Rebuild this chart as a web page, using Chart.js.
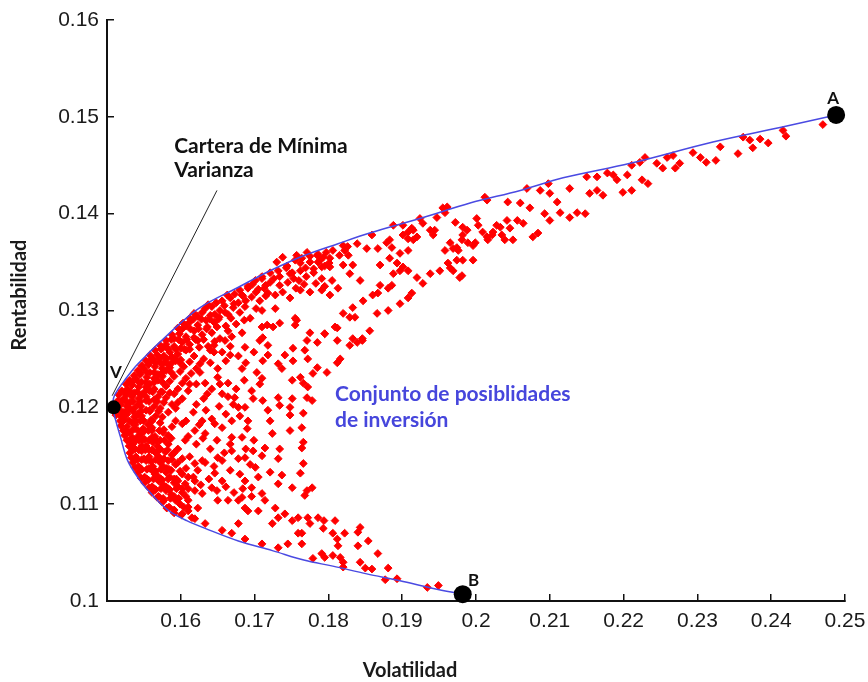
<!DOCTYPE html>
<html lang="es">
<head>
<meta charset="utf-8">
<title>Conjunto de posibilidades de inversión</title>
<script src="https://cdn.jsdelivr.net/npm/chart.js@4.4.1/dist/chart.umd.min.js"></script>
<style>
  html, body { margin: 0; padding: 0; background: #fff; }
  #grafico { display: block; }
</style>
</head>
<body>
<canvas id="grafico" width="868" height="682"></canvas>
<script>
// Carteras simuladas: [volatilidad, rentabilidad]
// Tramo superior derecho, pegado a la frontera
const franjaSuperior = [
    [0.2150,0.1438],[0.2164,0.1438],[0.2178,0.1442],[0.2186,0.1440],[0.2191,0.1435],[0.2205,0.1440],
    [0.2211,0.1450],[0.2222,0.1453],[0.2229,0.1458],[0.2245,0.1452],[0.2253,0.1447],[0.2259,0.1458],
    [0.2267,0.1460],[0.2276,0.1452],[0.2270,0.1447],[0.2294,0.1463],[0.2304,0.1458],[0.2312,0.1453],
    [0.2325,0.1455],[0.2331,0.1469],[0.2355,0.1462],[0.2362,0.1479],[0.2371,0.1476],[0.2375,0.1468],
    [0.2385,0.1477],[0.2396,0.1473],[0.2416,0.1486],[0.2420,0.1480],[0.2470,0.1492],[0.2154,0.1421],
    [0.2164,0.1424],[0.2172,0.1419],[0.2199,0.1422],[0.2211,0.1424],[0.2225,0.1435],[0.2233,0.1431],
    [0.2148,0.1400]
];
// Tramo central de la rama superior
const franjaMedia = [
    [0.1793,0.1355],[0.1802,0.1354],[0.1791,0.1345],[0.1802,0.1345],[0.1820,0.1367],[0.1822,0.1362],
    [0.1827,0.1357],[0.1839,0.1369],[0.1820,0.1347],[0.1833,0.1347],[0.1829,0.1338],[0.1805,0.1331],
    [0.1843,0.1331],[0.1852,0.1364],[0.1859,0.1378],[0.1867,0.1364],[0.1870,0.1347],[0.1883,0.1373],
    [0.1888,0.1388],[0.1886,0.1365],[0.1897,0.1359],[0.1908,0.1362],[0.1893,0.1349],[0.1897,0.1341],
    [0.1901,0.1345],[0.1908,0.1341],[0.1888,0.1338],[0.1886,0.1326],[0.1920,0.1334],[0.1928,0.1328],
    [0.1938,0.1338],[0.1913,0.1318],[0.1908,0.1313],[0.1897,0.1307],[0.1881,0.1323],[0.1870,0.1326],
    [0.1867,0.1318],[0.1860,0.1316],[0.1847,0.1310],[0.1833,0.1303],[0.1820,0.1297],[0.1829,0.1293],
    [0.1836,0.1293],[0.1866,0.1297],[0.1881,0.1300],[0.1856,0.1279],[0.1809,0.1283],[0.1795,0.1276],
    [0.1833,0.1271],[0.1846,0.1271],[0.1901,0.1378],[0.1908,0.1381],[0.1913,0.1385],[0.1924,0.1395],
    [0.1928,0.1390],[0.1908,0.1374],[0.1920,0.1376],[0.1915,0.1373],[0.1942,0.1378],[0.1944,0.1383],
    [0.1947,0.1396],[0.1955,0.1406],[0.1958,0.1401],[0.1961,0.1407],[0.1972,0.1391],[0.1965,0.1370],
    [0.1958,0.1362],[0.1974,0.1365],[0.1982,0.1386],[0.1982,0.1378],[0.1988,0.1383],[0.1981,0.1373],
    [0.1976,0.1362],[0.2001,0.1395],[0.2003,0.1388],[0.1969,0.1364],[0.1962,0.1349],[0.1969,0.1341],
    [0.1978,0.1334],[0.1974,0.1352],[0.1982,0.1352],[0.1996,0.1352],[0.1951,0.1341],[0.1965,0.1344],
    [0.1981,0.1336],[0.1989,0.1370],[0.1996,0.1367],[0.1999,0.1370],[0.2009,0.1381],[0.2015,0.1376],
    [0.2022,0.1378],[0.2016,0.1373],[0.2023,0.1381],[0.2012,0.1417],[0.2015,0.1414],[0.2028,0.1388],
    [0.2033,0.1386],[0.2035,0.1378],[0.2039,0.1373],[0.2042,0.1393],[0.2043,0.1412],[0.2046,0.1385],
    [0.2050,0.1373],[0.2056,0.1393],[0.2060,0.1411],[0.2064,0.1390],[0.2073,0.1406],[0.2077,0.1376],
    [0.2084,0.1380],[0.2069,0.1426],[0.2087,0.1424],[0.2098,0.1431],[0.2100,0.1421],[0.2093,0.1400],
    [0.2100,0.1393],[0.2110,0.1412],[0.2114,0.1401],[0.2127,0.1426],[0.2127,0.1396],[0.2137,0.1401],
    [0.1879,0.1370],[0.1901,0.1388],[0.1915,0.1383],[0.1938,0.1383],[0.1883,0.1354],[0.1738,0.1355],
    [0.1757,0.1357],[0.1771,0.1360],[0.1785,0.1357],[0.1730,0.1350],
    [0.1710,0.1335],[0.1744,0.1346],[0.1762,0.1349],[0.1775,0.1356],[0.1734,0.1335],[0.1753,0.1333],
    [0.1783,0.1328],[0.1795,0.1325],[0.1813,0.1323],[0.1762,0.1321],[0.1738,0.1319],[0.1713,0.1323]
];
// Nube compacta junto a la cartera de mínima varianza
const franjaDensa = [
    [0.1786,0.1358],[0.1797,0.1360],[0.1806,0.1362],
    [0.1755,0.1352],[0.1764,0.1354],[0.1775,0.1350],[0.1786,0.1350],[0.1795,0.1346],
    [0.1721,0.1339],[0.1732,0.1341],[0.1743,0.1344],[0.1751,0.1339],[0.1762,0.1341],[0.1770,0.1335],[0.1780,0.1339],[0.1791,0.1333],
    [0.1701,0.1331],[0.1710,0.1333],[0.1721,0.1329],[0.1734,0.1326],[0.1745,0.1329],[0.1756,0.1323],[0.1767,0.1327],[0.1775,0.1319],[0.1791,0.1321],[0.1802,0.1316],
    [0.1680,0.1321],[0.1691,0.1323],[0.1702,0.1319],[0.1728,0.1316],[0.1748,0.1313],
    [0.1656,0.1310],[0.1667,0.1313],[0.1678,0.1308],[0.1688,0.1310],[0.1707,0.1310],
    [0.1633,0.1302],[0.1642,0.1304],[0.1653,0.1300],[0.1664,0.1296],[0.1680,0.1298],[0.1694,0.1292],
    [0.1612,0.1292],[0.1623,0.1294],[0.1634,0.1290],[0.1645,0.1288],[0.1661,0.1284],[0.1675,0.1286],
    [0.1596,0.1282],[0.1607,0.1284],[0.1618,0.1279],[0.1629,0.1275],[0.1642,0.1277],[0.1653,0.1271],[0.1669,0.1273],
    [0.1580,0.1269],[0.1591,0.1271],[0.1602,0.1267],[0.1612,0.1265],[0.1623,0.1269],[0.1637,0.1263],
    [0.1565,0.1259],[0.1575,0.1261],[0.1585,0.1257],[0.1596,0.1255],[0.1607,0.1259],[0.1618,0.1253],[0.1631,0.1250],[0.1645,0.1257],
    [0.1553,0.1248],[0.1561,0.1250],[0.1572,0.1246],[0.1583,0.1244],[0.1593,0.1248],[0.1604,0.1242],[0.1621,0.1240],
    [0.1542,0.1238],[0.1550,0.1240],[0.1558,0.1236],[0.1569,0.1234],[0.1580,0.1238],[0.1591,0.1232],[0.1607,0.1230],
    [0.1531,0.1228],[0.1539,0.1230],[0.1547,0.1226],[0.1558,0.1224],[0.1569,0.1228],[0.1580,0.1222],[0.1596,0.1219],[0.1612,0.1224],
    [0.1520,0.1217],[0.1528,0.1219],[0.1537,0.1215],[0.1547,0.1213],[0.1558,0.1217],[0.1569,0.1211],[0.1585,0.1215],[0.1602,0.1209],
    [0.1515,0.1207],[0.1523,0.1209],[0.1531,0.1205],[0.1542,0.1203],[0.1553,0.1207],[0.1564,0.1201],[0.1577,0.1205],[0.1593,0.1199],[0.1621,0.1203],
    [0.1515,0.1197],[0.1523,0.1195],[0.1531,0.1199],[0.1542,0.1193],[0.1553,0.1197],[0.1566,0.1191],[0.1583,0.1195],
    [0.1518,0.1186],[0.1523,0.1188],[0.1534,0.1184],[0.1545,0.1186],[0.1556,0.1182],[0.1572,0.1184],[0.1588,0.1180],
    [0.1522,0.1176],[0.1530,0.1174],[0.1538,0.1178],[0.1546,0.1172],[0.1556,0.1176],[0.1565,0.1170],[0.1576,0.1174],[0.1587,0.1168],
    [0.1527,0.1166],[0.1535,0.1162],[0.1543,0.1166],[0.1553,0.1160],[0.1562,0.1164],[0.1572,0.1157],[0.1583,0.1162],[0.1596,0.1157],
    [0.1531,0.1153],[0.1539,0.1149],[0.1547,0.1155],[0.1557,0.1149],[0.1566,0.1153],[0.1577,0.1147],[0.1588,0.1151],[0.1602,0.1147],
    [0.1535,0.1143],[0.1543,0.1139],[0.1553,0.1145],[0.1562,0.1139],[0.1572,0.1143],[0.1581,0.1137],[0.1593,0.1141],[0.1607,0.1137],
    [0.1542,0.1133],[0.1551,0.1128],[0.1561,0.1135],[0.1570,0.1128],[0.1580,0.1133],[0.1591,0.1126],[0.1602,0.1131],
    [0.1551,0.1122],[0.1561,0.1118],[0.1570,0.1124],[0.1580,0.1118],[0.1591,0.1122],[0.1602,0.1116],
    [0.1561,0.1112],[0.1570,0.1108],[0.1580,0.1114],[0.1591,0.1108],[0.1602,0.1112],
    [0.1575,0.1102],[0.1584,0.1097],[0.1593,0.1104],[0.1604,0.1097],
    [0.1591,0.1091],[0.1601,0.1089],[0.1610,0.1093]
];
// Segunda capa de la nube compacta, entre las anteriores
const franjaDensa2 = [
    [0.1691,0.1325],
    [0.1663,0.1316],[0.1673,0.1317],[0.1684,0.1315],[0.1696,0.1314],[0.1715,0.1315],
    [0.1637,0.1306],[0.1648,0.1308],[0.1659,0.1305],[0.1671,0.1303],[0.1687,0.1304],[0.1702,0.1302],
    [0.1618,0.1297],[0.1629,0.1298],[0.1640,0.1295],[0.1652,0.1293],[0.1668,0.1292],[0.1686,0.1290],
    [0.1603,0.1287],[0.1612,0.1288],[0.1623,0.1285],[0.1636,0.1283],[0.1649,0.1283],[0.1664,0.1279],[0.1683,0.1277],
    [0.1588,0.1275],[0.1598,0.1276],[0.1607,0.1273],[0.1618,0.1272],[0.1631,0.1270],[0.1646,0.1268],
    [0.1572,0.1264],[0.1580,0.1265],[0.1591,0.1263],[0.1600,0.1261],[0.1612,0.1260],[0.1625,0.1262],[0.1640,0.1259],
    [0.1558,0.1254],[0.1568,0.1254],[0.1577,0.1253],[0.1588,0.1252],[0.1600,0.1249],[0.1612,0.1247],[0.1626,0.1245],
    [0.1547,0.1243],[0.1556,0.1244],[0.1565,0.1242],[0.1575,0.1240],[0.1585,0.1241],[0.1599,0.1237],[0.1614,0.1235],
    [0.1537,0.1233],[0.1545,0.1234],[0.1554,0.1231],[0.1564,0.1230],[0.1575,0.1232],[0.1585,0.1227],[0.1602,0.1225],
    [0.1526,0.1224],[0.1534,0.1223],[0.1543,0.1221],[0.1553,0.1221],[0.1564,0.1219],[0.1575,0.1216],[0.1591,0.1214],
    [0.1516,0.1213],[0.1526,0.1213],[0.1534,0.1211],[0.1543,0.1209],[0.1553,0.1211],[0.1564,0.1208],[0.1580,0.1210],[0.1596,0.1205],
    [0.1512,0.1202],[0.1519,0.1203],[0.1527,0.1201],[0.1537,0.1199],[0.1546,0.1201],[0.1558,0.1197],[0.1572,0.1199],[0.1588,0.1203],
    [0.1512,0.1192],[0.1519,0.1191],[0.1527,0.1193],[0.1537,0.1190],[0.1547,0.1191],[0.1560,0.1187],[0.1575,0.1190],[0.1593,0.1186],
    [0.1519,0.1181],[0.1527,0.1180],[0.1538,0.1182],[0.1549,0.1178],[0.1561,0.1179],[0.1577,0.1177],
    [0.1524,0.1171],[0.1534,0.1169],[0.1542,0.1170],[0.1551,0.1167],[0.1561,0.1169],[0.1572,0.1166],[0.1583,0.1171],
    [0.1530,0.1160],[0.1538,0.1157],[0.1547,0.1160],[0.1557,0.1156],[0.1568,0.1160],[0.1579,0.1154],[0.1591,0.1153],
    [0.1533,0.1148],[0.1541,0.1146],[0.1550,0.1147],[0.1560,0.1144],[0.1570,0.1149],[0.1583,0.1145],[0.1596,0.1143],
    [0.1538,0.1138],[0.1547,0.1136],[0.1557,0.1137],[0.1566,0.1134],[0.1576,0.1139],[0.1587,0.1135],[0.1599,0.1134],
    [0.1546,0.1127],[0.1556,0.1125],[0.1565,0.1131],[0.1575,0.1125],[0.1585,0.1128],[0.1596,0.1124],[0.1610,0.1128],
    [0.1557,0.1117],[0.1566,0.1115],[0.1576,0.1120],[0.1585,0.1115],[0.1596,0.1118],[0.1610,0.1116],
    [0.1568,0.1107],[0.1577,0.1104],[0.1587,0.1110],[0.1596,0.1105],[0.1607,0.1108],
    [0.1581,0.1096],[0.1591,0.1094],[0.1599,0.1100],[0.1610,0.1097]
];
// Tercera capa: rellena los huecos de la zona más densa
const franjaDensa3 = [
    [0.1557,0.1246],[0.1566,0.1246],[0.1577,0.1246],[0.1588,0.1246],[0.1599,0.1246],
    [0.1545,0.1236],[0.1554,0.1236],[0.1564,0.1236],[0.1575,0.1236],[0.1587,0.1236],
    [0.1534,0.1226],[0.1543,0.1226],[0.1553,0.1226],[0.1564,0.1226],[0.1575,0.1226],
    [0.1524,0.1216],[0.1532,0.1216],[0.1541,0.1216],[0.1551,0.1216],[0.1562,0.1216],[0.1573,0.1216],
    [0.1519,0.1206],[0.1526,0.1206],[0.1535,0.1206],[0.1545,0.1206],[0.1557,0.1206],[0.1568,0.1206],
    [0.1519,0.1196],[0.1527,0.1196],[0.1535,0.1196],[0.1546,0.1196],[0.1558,0.1196],[0.1570,0.1196],
    [0.1522,0.1186],[0.1530,0.1186],[0.1540,0.1186],[0.1550,0.1186],[0.1561,0.1186],
    [0.1526,0.1176],[0.1534,0.1176],[0.1542,0.1176],[0.1551,0.1176],[0.1561,0.1176],[0.1571,0.1176],
    [0.1531,0.1166],[0.1539,0.1166],[0.1548,0.1166],[0.1557,0.1166],[0.1567,0.1166],[0.1578,0.1166],
    [0.1535,0.1156],[0.1543,0.1156],[0.1552,0.1156],[0.1561,0.1156],[0.1571,0.1156],[0.1582,0.1156],
    [0.1539,0.1146],[0.1547,0.1146],[0.1556,0.1146],[0.1566,0.1146],[0.1576,0.1146],[0.1588,0.1146],
    [0.1546,0.1136],[0.1554,0.1136],[0.1563,0.1136],[0.1573,0.1136],[0.1584,0.1136],
    [0.1554,0.1126],[0.1563,0.1126],[0.1573,0.1126],[0.1583,0.1126],[0.1594,0.1126],
    [0.1564,0.1116],[0.1573,0.1116],[0.1583,0.1116],[0.1594,0.1116],
    [0.1576,0.1106],[0.1586,0.1106],[0.1597,0.1106],
    [0.1617,0.1291],[0.1628,0.1291],[0.1639,0.1291],[0.1651,0.1291],
    [0.1602,0.1281],[0.1613,0.1281],[0.1624,0.1281],[0.1635,0.1281],
    [0.1587,0.1270],[0.1597,0.1270],[0.1608,0.1270],[0.1620,0.1270],
    [0.1573,0.1260],[0.1583,0.1260],[0.1593,0.1260],[0.1605,0.1260],
    [0.1562,0.1250],[0.1571,0.1250],[0.1581,0.1250],[0.1592,0.1250],
    [0.1726,0.1333],[0.1748,0.1338],[0.1769,0.1344],[0.1789,0.1352],[0.1715,0.1326],[0.1697,0.1327],
    [0.1672,0.1307],[0.1660,0.1298],[0.1646,0.1296],[0.1683,0.1316],[0.1705,0.1322],[0.1760,0.1331],
    [0.1780,0.1343],[0.1801,0.1349],[0.1815,0.1357],[0.1826,0.1366]
];
// Carteras dispersas en el interior del conjunto
const interior = [
    [0.1687,0.1262],[0.1660,0.1269],[0.1664,0.1225],[0.1650,0.1231],[0.1633,0.1225],[0.1636,0.1214],
    [0.1656,0.1214],[0.1687,0.1200],[0.1683,0.1240],[0.1673,0.1210],[0.1678,0.1200],[0.1667,0.1254],
    [0.1710,0.1300],[0.1728,0.1302],[0.1718,0.1318],[0.1755,0.1292],
    [0.1602,0.1183],[0.1606,0.1166],[0.1619,0.1176],[0.1629,0.1186],[0.1633,0.1173],[0.1646,0.1183],
    [0.1656,0.1179],[0.1669,0.1186],[0.1669,0.1169],[0.1683,0.1169],[0.1691,0.1186],[0.1669,0.1155],
    [0.1687,0.1148],[0.1650,0.1148],[0.1629,0.1145],[0.1619,0.1142],[0.1646,0.1132],[0.1656,0.1124],
    [0.1687,0.1124],[0.1619,0.1124],[0.1606,0.1121],[0.1642,0.1117],[0.1619,0.1114],[0.1629,0.1111],
    [0.1610,0.1104],[0.1623,0.1096],[0.1650,0.1104],[0.1664,0.1104],[0.1678,0.1104],[0.1687,0.1096],
    [0.1683,0.1107],[0.1714,0.1104],[0.1728,0.1096],[0.1705,0.1093],[0.1691,0.1093],[0.1732,0.1086],
    [0.1741,0.1090],[0.1751,0.1083],[0.1759,0.1086],[0.1724,0.1080],[0.1678,0.1080],[0.1656,0.1073],
    [0.1669,0.1070],[0.1633,0.1080],[0.1619,0.1085],[0.1615,0.1086],[0.1602,0.1090],[0.1710,0.1059],
    [0.1732,0.1055],[0.1745,0.1059],[0.1759,0.1070],[0.1687,0.1064],
    [0.1710,0.1283],[0.1717,0.1285],[0.1725,0.1283],[0.1734,0.1287],[0.1755,0.1285],[0.1757,0.1290],
    [0.1711,0.1272],[0.1718,0.1264],[0.1775,0.1277],[0.1795,0.1276],[0.1812,0.1282],[0.1812,0.1269],
    [0.1829,0.1264],[0.1839,0.1267],[0.1846,0.1269],[0.1771,0.1269],[0.1785,0.1267],[0.1752,0.1261],
    [0.1768,0.1259],[0.1772,0.1250],[0.1741,0.1254],[0.1752,0.1248],[0.1732,0.1245],[0.1711,0.1248],
    [0.1703,0.1236],[0.1710,0.1230],[0.1737,0.1240],[0.1785,0.1241],[0.1779,0.1235],[0.1762,0.1231],
    [0.1751,0.1228],[0.1766,0.1225],[0.1798,0.1236],[0.1812,0.1246],[0.1816,0.1250],[0.1772,0.1221],
    [0.1771,0.1210],[0.1778,0.1207],[0.1751,0.1209],[0.1732,0.1210],[0.1711,0.1207],[0.1698,0.1209],
    [0.1718,0.1197],[0.1734,0.1202],[0.1748,0.1200],[0.1766,0.1194],[0.1748,0.1192],[0.1721,0.1186],
    [0.1724,0.1173],[0.1748,0.1176],[0.1764,0.1179],[0.1766,0.1164],[0.1764,0.1158],[0.1714,0.1158],
    [0.1734,0.1157],[0.1698,0.1155],[0.1710,0.1150],[0.1732,0.1147],[0.1701,0.1138],[0.1721,0.1133],
    [0.1737,0.1130],[0.1762,0.1132],[0.1766,0.1142],[0.1732,0.1121],[0.1751,0.1117],[0.1710,0.1111],
    [0.1696,0.1117],
    [0.1607,0.1186],[0.1617,0.1195],[0.1625,0.1182],[0.1634,0.1197],[0.1642,0.1188],[0.1652,0.1201],
    [0.1661,0.1193],[0.1671,0.1203],[0.1680,0.1191],[0.1690,0.1178],[0.1610,0.1170],[0.1621,0.1162],
    [0.1630,0.1168],[0.1640,0.1157],[0.1649,0.1166],[0.1659,0.1153],[0.1667,0.1162],[0.1678,0.1147],
    [0.1688,0.1157],[0.1699,0.1166],[0.1612,0.1149],[0.1623,0.1135],[0.1633,0.1143],[0.1645,0.1139],
    [0.1656,0.1145],[0.1667,0.1135],[0.1680,0.1131],[0.1694,0.1141],[0.1705,0.1128],[0.1617,0.1128],
    [0.1627,0.1120],[0.1638,0.1126],[0.1649,0.1114],[0.1661,0.1118],[0.1672,0.1112],[0.1684,0.1116],
    [0.1696,0.1108],[0.1645,0.1264],[0.1656,0.1257],[0.1667,0.1263],[0.1678,0.1253],[0.1688,0.1246],
    [0.1699,0.1257],[0.1707,0.1269],[0.1718,0.1254],[0.1626,0.1236],[0.1640,0.1246],[0.1650,0.1240],
    [0.1661,0.1248],[0.1610,0.1217],[0.1621,0.1224],[0.1631,0.1209],[0.1642,0.1219],[0.1653,0.1224],
    [0.1664,0.1211],[0.1675,0.1219],[0.1686,0.1228],[0.1696,0.1217],[0.1707,0.1224]
];
// Cola inferior hacia la cartera B
const colaInferior = [
    [0.1771,0.1114],[0.1778,0.1117],[0.1768,0.1109],[0.1772,0.1086],[0.1786,0.1086],[0.1794,0.1083],
    [0.1775,0.1080],[0.1793,0.1075],[0.1806,0.1070],[0.1812,0.1064],[0.1822,0.1070],[0.1813,0.1057],
    [0.1843,0.1076],[0.1840,0.1071],[0.1854,0.1062],[0.1840,0.1057],[0.1867,0.1049],[0.1791,0.1049],
    [0.1795,0.1045],[0.1806,0.1047],[0.1816,0.1045],[0.1820,0.1040],[0.1820,0.1035],[0.1779,0.1044],
    [0.1843,0.1040],[0.1850,0.1034],[0.1859,0.1033],[0.1881,0.1034],[0.1877,0.1022],[0.1893,0.1023],
    [0.1934,0.1014],[0.1949,0.1016],[0.1764,0.1070],[0.1764,0.1059],[0.1809,0.1083]
];

// Frontera (de B a V y de V a A)
const frontera = [
    [0.1982,0.1007],[0.1942,0.1013],[0.1897,0.1021],[0.1852,0.1028],[0.1806,0.1036],[0.1768,0.1042],
    [0.1724,0.1052],[0.1678,0.1062],[0.1633,0.1075],[0.1608,0.1083],[0.1588,0.1091],[0.1572,0.1101],
    [0.1556,0.1114],[0.1545,0.1124],[0.1528,0.1145],[0.1518,0.1170],[0.1512,0.1186],[0.1508,0.1200],
    [0.1510,0.1212],[0.1527,0.1231],[0.1542,0.1245],[0.1588,0.1279],[0.1626,0.1303],[0.1678,0.1324],
    [0.1721,0.1341],[0.1768,0.1357],[0.1813,0.1369],[0.1856,0.1380],[0.1924,0.1395],[0.1992,0.1411],
    [0.2060,0.1424],[0.2118,0.1437],[0.2209,0.1452],[0.2321,0.1474],[0.2412,0.1489],[0.2488,0.1502]
];

// Carteras señaladas V, A y B
const volExtremos = [0.1509, 0.2488, 0.1982];
const rentExtremos = [0.1200, 0.1502, 0.1007];

// Línea que une el rótulo con la cartera V
const lineaRotulo = [[0.1649, 0.1424], [0.1507, 0.1212]];

// Ejes
const ticksVol = [0.15, 0.16, 0.17, 0.18, 0.19, 0.2, 0.21, 0.22, 0.23, 0.24, 0.25];
const etiquetasVol = ['', '0.16', '0.17', '0.18', '0.19', '0.2', '0.21', '0.22', '0.23', '0.24', '0.25'];
const ticksRent = [0.1, 0.11, 0.12, 0.13, 0.14, 0.15, 0.16];
const etiquetasRent = ['0.1', '0.11', '0.12', '0.13', '0.14', '0.15', '0.16'];

// Rótulos dentro del gráfico: texto, volatilidad, rentabilidad (línea base), tamaño, color
const rotulos = [
    ['Cartera de Mínima', 0.1591, 0.14625, 21, '#111'],
    ['Varianza', 0.1591, 0.14377, 21, '#111'],
    ['Conjunto de posiblidades', 0.1809, 0.1207, 21, '#4646dc'],
    ['de inversión', 0.1809, 0.1180, 21, '#4646dc'],
    ['V', 0.1504, 0.1230, 17, '#111'],
    ['A', 0.2476, 0.1513, 17, '#111'],
    ['B', 0.1989, 0.1015, 17, '#111']
];

const carteras = franjaSuperior.concat(franjaMedia, franjaDensa, franjaDensa2, franjaDensa3, interior, colaInferior);
const aPuntos = lista => lista.map(p => ({x: p[0], y: p[1]}));

const textos = {
    id: 'textos',
    afterDraw(chart) {
        const ctx = chart.ctx;
        const x = chart.scales.x;
        const y = chart.scales.y;
        ctx.save();
        ctx.textBaseline = 'alphabetic';
        ctx.textAlign = 'left';
        rotulos.forEach(function(r){
            ctx.font = 'bold ' + r[3] + 'px Lato, "Open Sans", sans-serif';
            ctx.fillStyle = r[4];
            ctx.fillText(r[0], x.getPixelForValue(r[1]), y.getPixelForValue(r[2]));
        });
        // titulos de los ejes
        ctx.font = 'bold 20px Lato, "Open Sans", sans-serif';
        ctx.fillStyle = '#1a1a1a';
        ctx.textAlign = 'center';
        ctx.fillText('Volatilidad', 410, 677);
        ctx.translate(26, 295);
        ctx.rotate(-Math.PI / 2);
        ctx.fillText('Rentabilidad', 0, 0);
        ctx.restore();
    }
};

const ejeComun = {
    type: 'linear',
    border: { color: '#111', width: 2 },
    grid: { drawOnChartArea: false, tickLength: -7, color: '#111', lineWidth: 1.5 },
    ticks: {
        autoSkip: false,
        maxRotation: 0,
        padding: 15,
        color: '#1a1a1a',
        font: { family: '"Liberation Sans", Arial, sans-serif', size: 21 }
    }
};

new Chart(document.getElementById('grafico'), {
    type: 'scatter',
    data: {
        datasets: [
            {
                label: 'Extremos',
                data: volExtremos.map((v, i) => ({x: v, y: rentExtremos[i]})),
                pointStyle: 'circle',
                pointRadius: [7, 9, 9],
                backgroundColor: '#000',
                borderColor: '#000',
                borderWidth: 0,
                clip: false
            },
            {
                label: 'Rótulo',
                data: aPuntos(lineaRotulo),
                showLine: true,
                pointRadius: 0,
                borderColor: '#222',
                borderWidth: 1,
                clip: false
            },
            {
                label: 'Frontera',
                data: aPuntos(frontera),
                showLine: true,
                tension: 0.35,
                pointRadius: 0,
                borderColor: 'rgb(74,74,226)',
                borderWidth: 1.5,
                clip: false
            },
            {
                label: 'Carteras',
                data: aPuntos(carteras),
                pointStyle: 'rectRot',
                pointRadius: 3.9,
                backgroundColor: 'rgb(255,0,0)',
                borderColor: 'rgb(255,0,0)',
                borderWidth: 1
            }
        ]
    },
    options: {
        responsive: false,
        animation: false,
        layout: { padding: { top: 20, right: 23, left: 0, bottom: 0 } },
        plugins: { legend: { display: false }, tooltip: { enabled: false } },
        scales: {
            x: Object.assign({}, ejeComun, {
                position: 'bottom',
                min: 0.15,
                max: 0.25,
                afterBuildTicks: s => { s.ticks = ticksVol.map(v => ({value: v})); },
                afterFit: s => { s.height = 81; s.paddingLeft = 0; s.paddingRight = 0; },
                ticks: Object.assign({}, ejeComun.ticks, { callback: (v, i) => etiquetasVol[i] })
            }),
            y: Object.assign({}, ejeComun, {
                position: 'left',
                min: 0.1,
                max: 0.16,
                afterBuildTicks: s => { s.ticks = ticksRent.map(v => ({value: v})); },
                afterFit: s => { s.width = 107; s.paddingTop = 0; s.paddingBottom = 0; },
                ticks: Object.assign({}, ejeComun.ticks, { callback: (v, i) => etiquetasRent[i] })
            })
        }
    },
    plugins: [textos]
});
</script>
</body>
</html>
